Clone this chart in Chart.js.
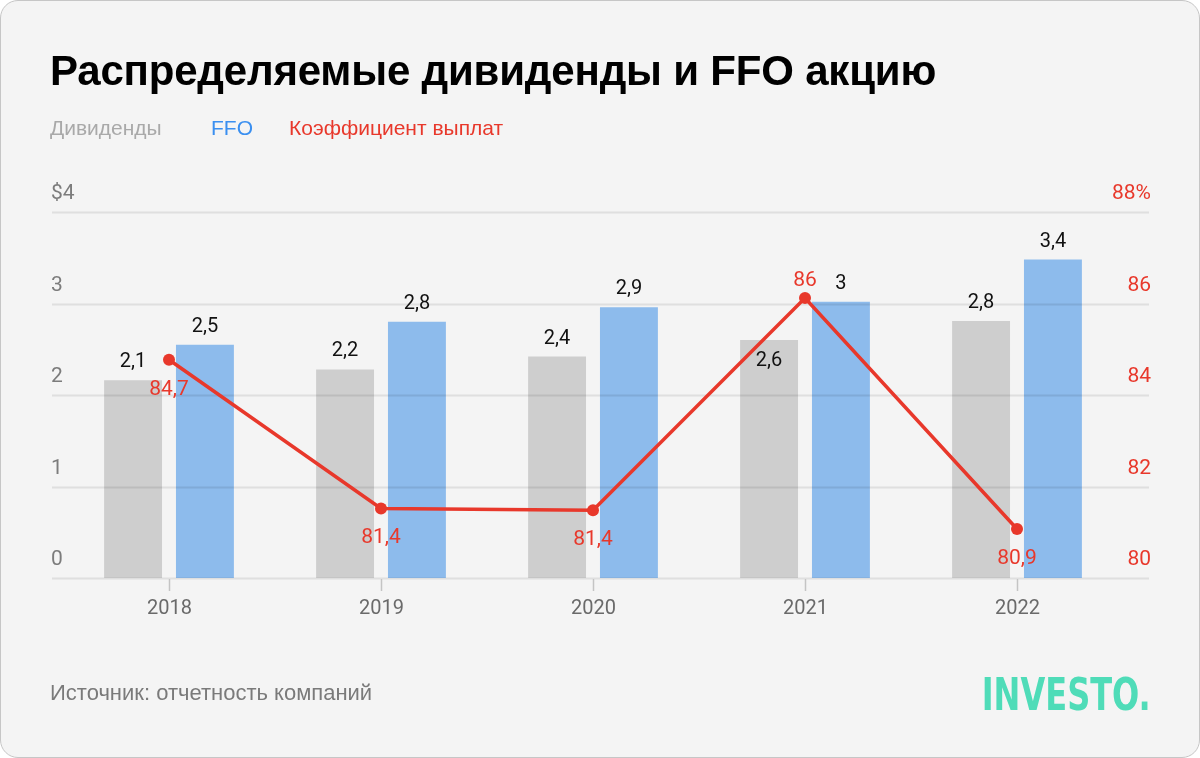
<!DOCTYPE html>
<html lang="ru">
<head>
    <meta charset="utf-8">
    <title>Распределяемые дивиденды и FFO акцию</title>
    <script src="https://cdn.jsdelivr.net/npm/chart.js@4.4.1/dist/chart.umd.min.js"></script>
    <style>
        html, body { margin: 0; padding: 0; background: #ffffff; }
        .card {
            position: relative;
            width: 1200px; height: 758px;
            box-sizing: border-box;
            border: 1px solid #c6c6c6;
            border-radius: 18px;
            background: #f4f4f4;
            overflow: hidden;
            font-family: "Liberation Sans", Arial, sans-serif;
        }
        #chart { position: absolute; left: 0; top: 0; }
        .title {
            position: absolute; left: 49px; top: 46px;
            font-size: 42px; font-weight: bold; color: #000;
            letter-spacing: -0.2px; white-space: nowrap;
        }
        .legend span { position: absolute; top: 115px; font-size: 21px; white-space: nowrap; }
        .source { position: absolute; left: 49px; top: 679px; font-size: 22px; color: #7a7a7a; }
        .logo {
            position: absolute; right: 48px; top: 668px;
            font-family: "Liberation Sans Narrow", "DejaVu Sans Condensed", sans-serif;
            font-weight: bold; font-size: 44px; color: #4fdcb8;
            transform: scaleX(0.81); transform-origin: right center;
        }
    </style>
</head>
<body>
<div class="card">
    <canvas id="chart" width="1200" height="758"></canvas>
    <div class="title">Распределяемые дивиденды и FFO акцию</div>
    <div class="legend">
        <span style="left:49px;color:#a9a9a9">Дивиденды</span>
        <span style="left:210px;color:#3a8ff0">FFO</span>
        <span style="left:288px;color:#e8382b">Коэффициент выплат</span>
    </div>
    <div class="source">Источник: отчетность компаний</div>
    <div class="logo">INVESTO.</div>
</div>

<script>
    /* Data */
    const years = ["2018", "2019", "2020", "2021", "2022"];
    const dividends = [2.16, 2.28, 2.42, 2.60, 2.81];
    const ffo = [2.55, 2.80, 2.96, 3.02, 3.48];
    const payout = [84.77, 81.52, 81.48, 86.12, 81.07];

    const dividendLabels = ["2,1", "2,2", "2,4", "2,6", "2,8"];
    const ffoLabels = ["2,5", "2,8", "2,9", "3", "3,4"];
    const payoutLabels = ["84,7", "81,4", "81,4", "86", "80,9"];

    const leftTicks = ["0", "1", "2", "3", "$4"];
    const rightTicks = ["80", "82", "84", "86", "88%"];

    const RED = "#e8382b";

    /* where the value labels sit: above the mark or under it */
    const dividendInside = [false, false, false, true, false];
    const payoutAbove = [false, false, false, true, false];

    const decorPlugin = {
        id: "decor",
        beforeDatasetDraw(chart, args) {
            if (args.index !== 2) return;
            const c = chart.ctx;
            const area = chart.chartArea;
            const y = chart.scales.y;
            const x0 = area.left - 11, x1 = area.right + 26;
            c.save();
            c.strokeStyle = "rgba(0,0,0,0.085)";
            c.lineWidth = 2;
            y.ticks.forEach(t => {
                const py = Math.round(y.getPixelForValue(t.value)) + 0.5;
                c.beginPath(); c.moveTo(x0, py); c.lineTo(x1, py); c.stroke();
            });
            c.restore();
        },
        afterDatasetsDraw(chart) {
            const c = chart.ctx;
            const area = chart.chartArea;
            const x = chart.scales.x;
            const y = chart.scales.y;
            const y2 = chart.scales.y2;
            const x0 = area.left - 11, x1 = area.right + 26;
            c.save();
            c.font = "21px Roboto";
            c.textBaseline = "alphabetic";

            // left axis
            c.fillStyle = "#7c7c7c";
            c.textAlign = "left";
            y.ticks.forEach((t, i) => {
                c.fillText(leftTicks[i], x0 - 1, y.getPixelForValue(t.value) - 13);
            });
            // right axis
            c.fillStyle = RED;
            c.textAlign = "right";
            y2.ticks.forEach((t, i) => {
                c.fillText(rightTicks[i], x1 + 2, y2.getPixelForValue(t.value) - 13);
            });

            // x axis ticks and labels
            c.font = "20px Roboto";
            c.strokeStyle = "#c4c4c4";
            c.lineWidth = 1.5;
            c.fillStyle = "#6a6a6a";
            c.textAlign = "center";
            years.forEach((yr, i) => {
                const px = Math.round(x.getPixelForValue(i)) + 0.5;
                c.beginPath(); c.moveTo(px, area.bottom + 1); c.lineTo(px, area.bottom + 13); c.stroke();
                c.fillText(yr, px, area.bottom + 36);
            });

            // bar value labels
            c.font = "20px Roboto";
            c.fillStyle = "#111";
            const divMeta = chart.getDatasetMeta(0);
            const ffoMeta = chart.getDatasetMeta(1);
            divMeta.data.forEach((bar, i) => {
                const ty = dividendInside[i] ? bar.y + 26 : bar.y - 13;
                c.fillText(dividendLabels[i], bar.x, ty);
            });
            ffoMeta.data.forEach((bar, i) => {
                c.fillText(ffoLabels[i], bar.x, bar.y - 13);
            });

            // payout labels
            c.font = "21px Roboto";
            c.fillStyle = RED;
            const lineMeta = chart.getDatasetMeta(2);
            lineMeta.data.forEach((pt, i) => {
                const ty = payoutAbove[i] ? pt.y - 12 : pt.y + 35;
                c.fillText(payoutLabels[i], pt.x, ty);
            });
            c.restore();
        }
    };

    const ctx = document.getElementById("chart").getContext("2d");
    const chart = new Chart(ctx, {
        type: "bar",
        data: {
            labels: years,
            datasets: [
                {
                    label: "Дивиденды",
                    data: dividends,
                    backgroundColor: "#cecece",
                    yAxisID: "y",
                    order: 1,
                    categoryPercentage: 0.678,
                    barPercentage: 0.806
                },
                {
                    label: "FFO",
                    data: ffo,
                    backgroundColor: "#8dbbec",
                    yAxisID: "y",
                    order: 1,
                    categoryPercentage: 0.678,
                    barPercentage: 0.806
                },
                {
                    type: "line",
                    label: "Коэффициент выплат",
                    data: payout,
                    yAxisID: "y2",
                    order: 0,
                    borderColor: RED,
                    backgroundColor: RED,
                    borderWidth: 3.5,
                    pointRadius: 6,
                    pointBackgroundColor: RED,
                    pointBorderWidth: 0,
                    tension: 0,
                    clip: false
                }
            ]
        },
        options: {
            responsive: false,
            animation: false,
            events: [],
            layout: {
                padding: { left: 62, right: 78, top: 211, bottom: 181 }
            },
            plugins: {
                legend: { display: false },
                tooltip: { enabled: false }
            },
            scales: {
                x: { display: false },
                y: { display: false, min: 0, max: 4, ticks: { stepSize: 1 } },
                y2: { display: false, position: "right", min: 80, max: 88, ticks: { stepSize: 2 } }
            }
        },
        plugins: [decorPlugin]
    });
</script>
</body>
</html>
